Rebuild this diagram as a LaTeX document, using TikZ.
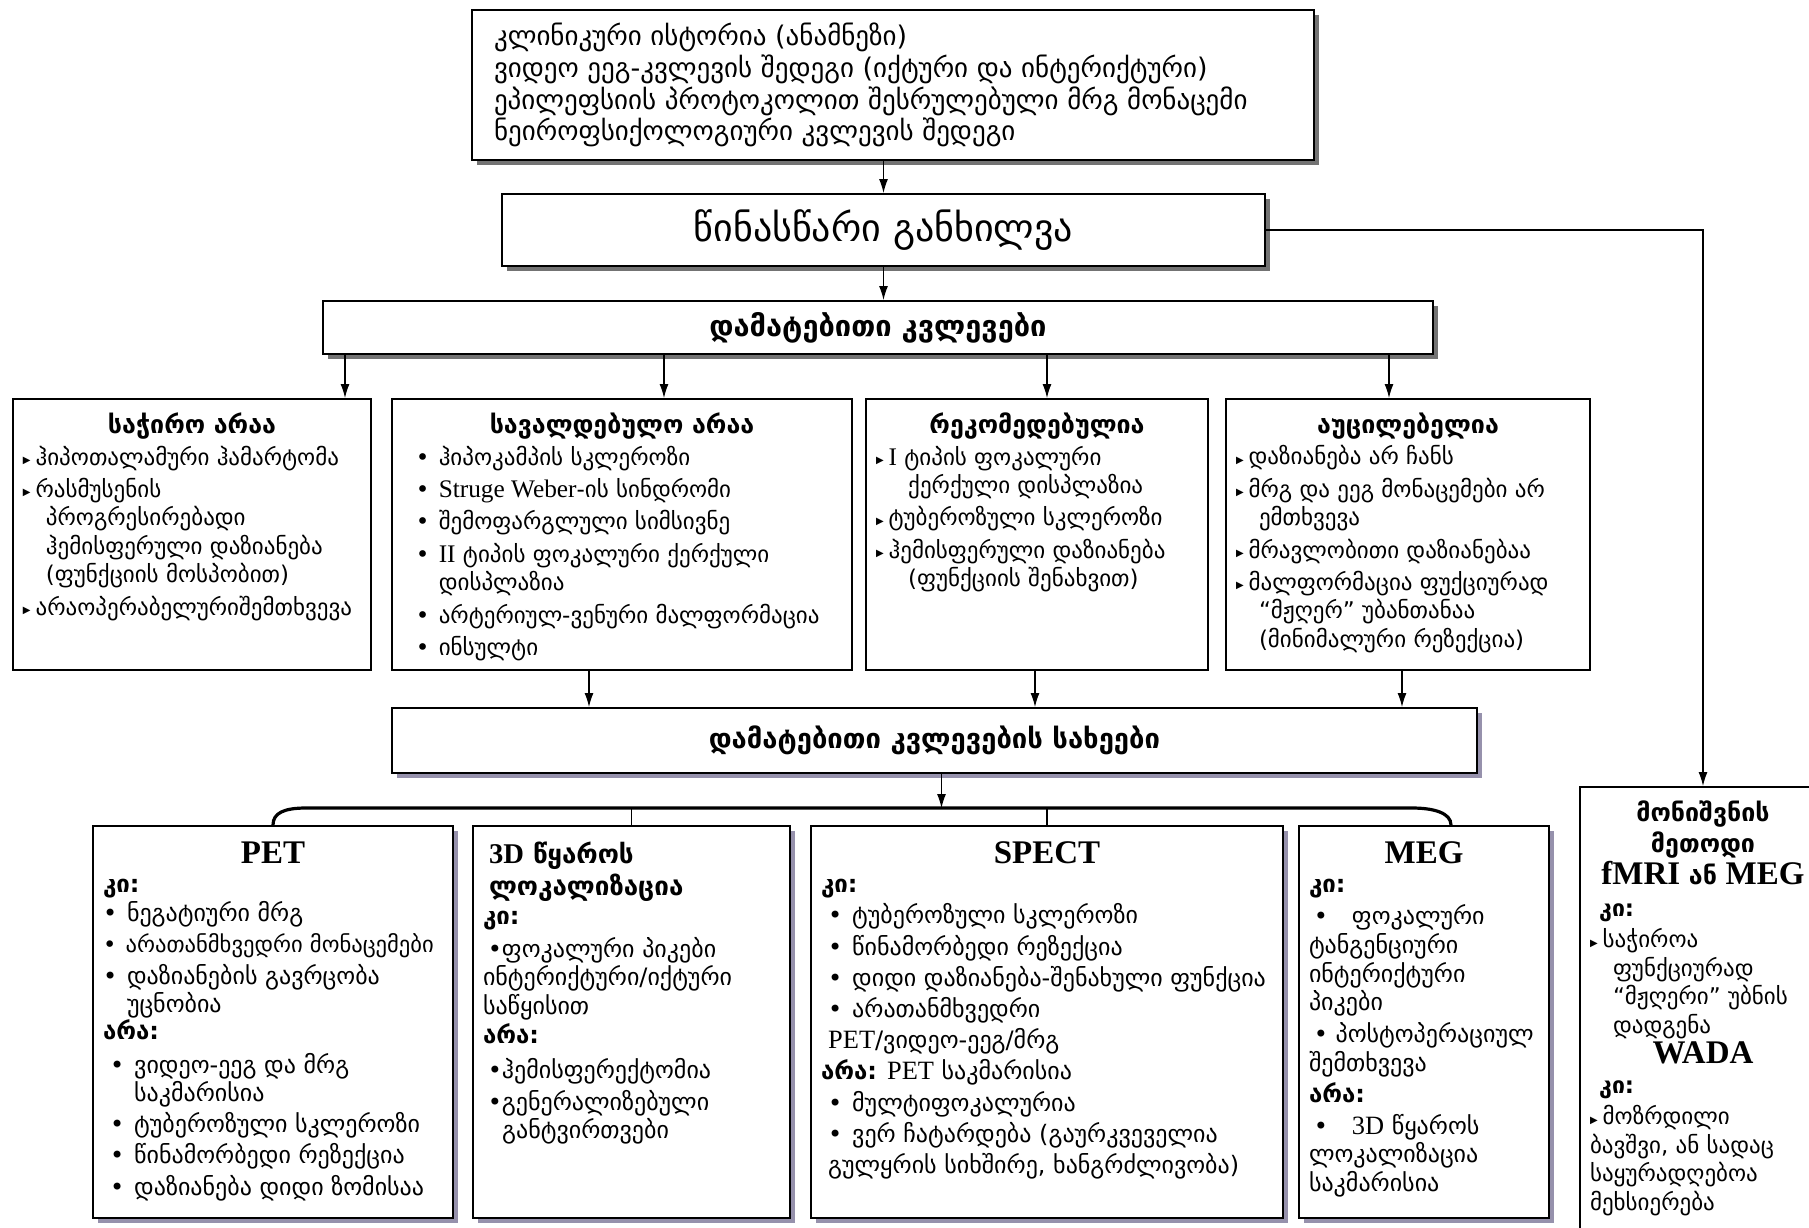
\documentclass[tikz,border=0pt]{standalone}
\usepackage{fontspec}
\setmainfont{DejaVu Sans}
\newfontfamily\tms{Liberation Serif}[Scale=1.1]
\usepackage{xcolor}
\usetikzlibrary{arrows.meta, positioning, shadows}
\definecolor{shadowlav}{RGB}{150,145,172}
\newcommand{\bl}{\makebox[1em][l]{•}}
\newcommand{\tr}{\makebox[0.55em][l]{\raisebox{0.15ex}{\tiny ▶}}}
\newcommand{\txt}{\fontsize{11.5}{14.2}\selectfont}
\newcommand{\btxt}{\fontsize{12}{14.4}\selectfont}
\newcommand{\cell}[3]{\parbox[c][#2][t]{#1}{\raggedright\txt #3}}
\newcommand{\ttl}[1]{\vspace*{3pt}{\centering\bfseries\fontsize{12.5}{15}\selectfont #1\par}\vspace{1.5pt}}
\newcommand{\lttl}[1]{\vspace*{4pt}{\centering\tms\bfseries\fontsize{15}{19}\selectfont #1\par}}

\begin{document}
\begin{tikzpicture}[x=0.5pt, y=-0.5pt,
				->,
				>={Latex[length=7pt,width=4.5pt]},
				line width=0.6pt,
				box/.style={-, draw, line width=1pt, fill=white, anchor=north west,
					inner xsep=5pt, inner ysep=4pt},
				shbox/.style={box, drop shadow={shadow xshift=2.5pt, shadow yshift=-2.5pt,
					fill=black!55, opacity=1}},
				lavbox/.style={box, drop shadow={shadow xshift=2.5pt, shadow yshift=-2.5pt,
					fill=shadowlav, opacity=1}},
				bracket/.style={-, line width=1.6pt}]
				\useasboundingbox (0,0) rectangle (1809,1227);
				\fill[white] (0,0) rectangle (1809,1227);
				\clip (0,0) rectangle (1809,1227);
				% top part
				\node[shbox, inner xsep=11pt] (hist) at (471,9) {\parbox[c][67pt][c]{399pt}{\fontsize{13.5}{15.9}\selectfont
					კლინიკური ისტორია (ანამნეზი)\\
					ვიდეო ეეგ-კვლევის შედეგი (იქტური და ინტერიქტური)\\
					ეპილეფსიის პროტოკოლით შესრულებული მრგ მონაცემი\\
					ნეიროფსიქოლოგიური კვლევის შედეგი}};
				\node[shbox, minimum width=381.5pt, minimum height=36pt, font=\fontsize{19}{22}\selectfont] (prelim) at (501,193) {წინასწარი განხილვა};
				\node[shbox, minimum width=555pt, minimum height=26.5pt, font=\fontsize{14.5}{16}\selectfont\bfseries] (addtests) at (322,300) {დამატებითი კვლევები};
				% four groups
				\node[box] (boxA) at (12,398) {\cell{169pt}{127.5pt}{\ttl{საჭირო არაა}
					\tr ჰიპოთალამური ჰამარტომა\\[2pt]
					\tr რასმუსენის\\
					\hspace*{1em}პროგრესირებადი\\
					\hspace*{1em}ჰემისფერული დაზიანება\\
					\hspace*{1em}(ფუნქციის მოსპობით)\\[2pt]
					\tr არაოპერაბელურიშემთხვევა}};
				\node[box] (boxB) at (391,398) {\cell{220pt}{127.5pt}{\ttl{სავალდებულო არაა}
					\hspace*{0.6em}\bl ჰიპოკამპის სკლეროზი\\[2pt]
					\hspace*{0.6em}\bl {\tms Struge Weber}-ის სინდრომი\\[2pt]
					\hspace*{0.6em}\bl შემოფარგლული სიმსივნე\\[2pt]
					\hspace*{0.6em}\bl {\tms II} ტიპის ფოკალური ქერქული\\
					\hspace*{1.6em}დისპლაზია\\[2pt]
					\hspace*{0.6em}\bl არტერიულ-ვენური მალფორმაცია\\[2pt]
					\hspace*{0.6em}\bl ინსულტი}};
				\node[box] (boxC) at (865,398) {\cell{161pt}{127.5pt}{\ttl{რეკომედებულია}
					\tr {\tms I} ტიპის ფოკალური\\
					\hspace*{1.4em}ქერქული დისპლაზია\\[2pt]
					\tr ტუბეროზული სკლეროზი\\[2pt]
					\tr ჰემისფერული დაზიანება\\
					\hspace*{1.4em}(ფუნქციის შენახვით)}};
				\node[box] (boxD) at (1225,398) {\cell{172pt}{127.5pt}{\ttl{აუცილებელია}
					\tr დაზიანება არ ჩანს\\[2pt]
					\tr მრგ და ეეგ მონაცემები არ\\
					\hspace*{1em}ემთხვევა\\[2pt]
					\tr მრავლობითი დაზიანებაა\\[2pt]
					\tr მალფორმაცია ფუქციურად\\
					\hspace*{1em}“მჟღერ” უბანთანაა\\
					\hspace*{1em}(მინიმალური რეზექცია)}};
				\node[lavbox, minimum width=542.5pt, minimum height=32.5pt, font=\fontsize{13.7}{16}\selectfont\bfseries] (kinds) at (391,707) {დამატებითი კვლევების სახეები};
				% test types
				\node[lavbox] (petbox) at (92,825) {\cell{170pt}{188pt}{\btxt\lttl{PET}
					{\bfseries კი:}\\
					\bl ნეგატიური მრგ\\[1.2pt]
					\mbox{\fontsize{11.3}{14.4}\selectfont\bl არათანმხვედრი მონაცემები}\\[1.6pt]
					\bl დაზიანების გავრცობა\\[-0.5pt]
					\hspace*{1em}უცნობია\\[-1pt]
					{\bfseries არა:}\\[2.9pt]
					\hspace*{0.3em}\bl ვიდეო-ეეგ და მრგ\\[-0.5pt]
					\hspace*{1.3em}საკმარისია\\[1.2pt]
					\hspace*{0.3em}\bl ტუბეროზული სკლეროზი\\[1.2pt]
					\hspace*{0.3em}\bl წინამორბედი რეზექცია\\[1.2pt]
					\hspace*{0.3em}\bl დაზიანება დიდი ზომისაა}};
				\node[lavbox] (tdbox) at (472,825) {\cell{148.5pt}{188pt}{\btxt\vspace*{4pt}{\bfseries\fontsize{13}{16}\selectfont\hspace*{3pt}{\tms 3D} წყაროს\\
					\hspace*{3pt}ლოკალიზაცია\par}
					{\bfseries კი:}\\[2pt]
					\hspace*{0.2em}•ფოკალური პიკები\\
					ინტერიქტური/იქტური\\
					საწყისით\\
					{\bfseries არა:}\\[3pt]
					\hspace*{0.2em}•ჰემისფერექტომია\\[1.5pt]
					\hspace*{0.2em}•გენერალიზებული\\
					\hspace*{0.8em}განტვირთვები}};
				\node[lavbox] (specbox) at (810,825) {\cell{226pt}{188pt}{\btxt\lttl{SPECT}
					{\bfseries კი:}\\[1.2pt]
					\hspace*{0.3em}\bl ტუბეროზული სკლეროზი\\[1.2pt]
					\hspace*{0.3em}\bl წინამორბედი რეზექცია\\[1.2pt]
					\hspace*{0.3em}\bl დიდი დაზიანება-შენახული ფუნქცია\\[1.2pt]
					\hspace*{0.3em}\bl არათანმხვედრი\\[1.2pt]
					\hspace*{0.3em}{\tms PET}/ვიდეო-ეეგ/მრგ\\[1.2pt]
					{\bfseries არა:} {\tms PET} საკმარისია\\[1.2pt]
					\hspace*{0.3em}\bl მულტიფოკალურია\\[1.2pt]
					\hspace*{0.3em}\bl ვერ ჩატარდება (გაურკვეველია\\[1.2pt]
					\hspace*{0.3em}გულყრის სიხშირე, ხანგრძლივობა)}};
				\node[lavbox] (megbox) at (1298,825) {\cell{115pt}{188pt}{\btxt\lttl{MEG}
					{\bfseries კი:}\\[1.5pt]
					\hspace*{0.2em}•\hspace{1em}ფოკალური\\
					ტანგენციური\\
					ინტერიქტური\\
					პიკები\\[1.5pt]
					\hspace*{0.2em}• პოსტოპერაციულ\\
					შემთხვევა\\[1pt]
					{\bfseries არა:}\\[1.5pt]
					\hspace*{0.2em}•\hspace{1em}{\tms 3D} წყაროს\\
					ლოკალიზაცია\\
					საკმარისია}};
				\node[box] (monbox) at (1579,786) {\cell{113pt}{240pt}{\vspace*{3pt}{\centering\bfseries\fontsize{12.5}{15.6}\selectfont მონიშვნის\\
					მეთოდი\\
					{\tms\fontsize{15}{15.6}\selectfont fMRI} ან {\tms\fontsize{15}{15.6}\selectfont MEG}\par}
					\vspace{2pt}
					\hspace*{0.4em}{\bfseries კი:}\\[1.5pt]
					\tr საჭიროა\\
					\hspace*{1em}ფუნქციურად\\
					\hspace*{1em}“მჟღერი” უბნის\\
					\hspace*{1em}დადგენა\par
					{\centering\tms\bfseries\fontsize{15}{15}\selectfont WADA\par}
					\vspace{1pt}
					\hspace*{0.4em}{\bfseries კი:}\\[1.5pt]
					\tr მოზრდილი\\
					ბავშვი, ან სადაც\\
					საყურადღებოა\\
					მეხსიერება}};
				% connectors
				\coordinate (brk) at (0,808);
				\coordinate (brkL) at (306,808);
				\coordinate (brkR) at (1412,808);
				\draw (prelim.north |- hist.south) -- (prelim.north);
				\draw (prelim.south) -- (prelim.south |- addtests.north);
				\draw (prelim.east) -| (monbox.north);
				\draw ([xshift=76.5pt]boxA.north |- addtests.south) -- ([xshift=76.5pt]boxA.north);
				\draw ([xshift=21pt]boxB.north |- addtests.south) -- ([xshift=21pt]boxB.north);
				\draw ([xshift=5pt]boxC.north |- addtests.south) -- ([xshift=5pt]boxC.north);
				\draw ([xshift=-9.5pt]boxD.north |- addtests.south) -- ([xshift=-9.5pt]boxD.north);
				\draw ([xshift=-16.5pt]boxB.south) -- ([xshift=-16.5pt]boxB.south |- kinds.north);
				\draw ([xshift=-1pt]boxC.south) -- ([xshift=-1pt]boxC.south |- kinds.north);
				\draw ([xshift=-3pt]boxD.south) -- ([xshift=-3pt]boxD.south |- kinds.north);
				\draw ([xshift=3.5pt]kinds.south) -- ([xshift=3.5pt]kinds.south |- brk);
				\draw[bracket] (petbox.north) .. controls +(0,-12) and +(-22,0) .. (brkL) -- (brkR) .. controls +(22,0) and +(0,-12) .. ([xshift=13.5pt]megbox.north);
				\draw[-] (tdbox.north |- brk) -- (tdbox.north);
				\draw[-] (specbox.north |- brk) -- (specbox.north);
			\end{tikzpicture}
\end{document}
